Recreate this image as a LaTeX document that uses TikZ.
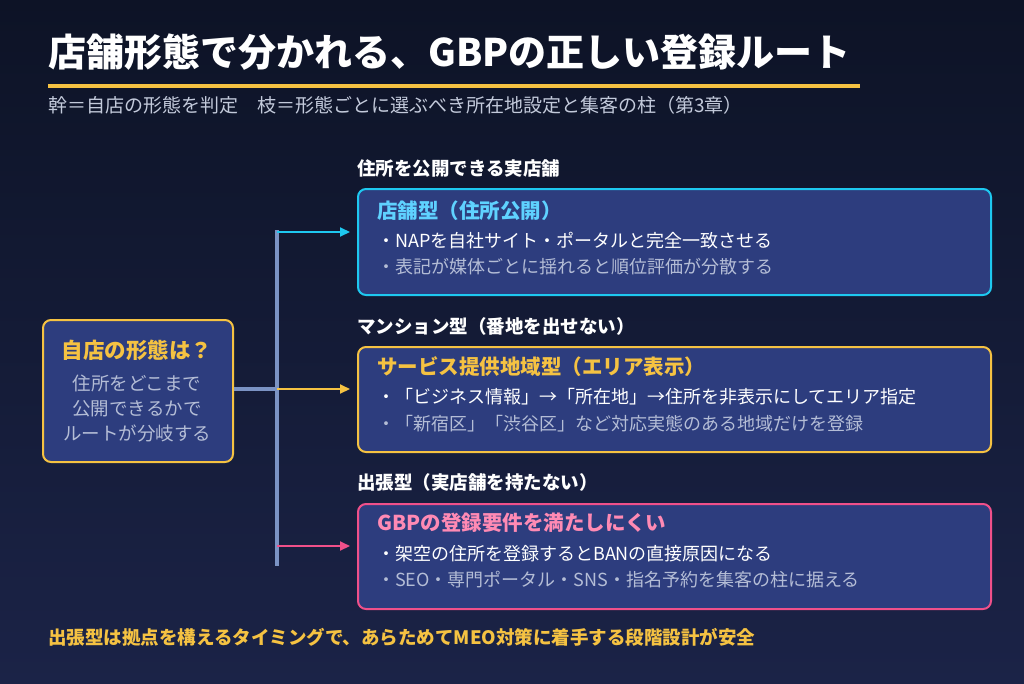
\documentclass[tikz,border=0pt]{standalone}
\usepackage{fontspec}
\setmainfont{Noto Sans CJK JP}
\usetikzlibrary{arrows.meta}
\definecolor{bgtop}{HTML}{0D1326}
\definecolor{bgbot}{HTML}{1B2347}
\definecolor{boxfill}{HTML}{2D3D7E}
\definecolor{yel}{HTML}{F5C242}
\definecolor{cya}{HTML}{1EC8F0}
\definecolor{cyt}{HTML}{5FD2FF}
\definecolor{pnk}{HTML}{F0508A}
\definecolor{pkt}{HTML}{FF8AB4}
\definecolor{trunk}{HTML}{7B93C4}
\definecolor{sub}{HTML}{C3CADB}
\definecolor{body2}{HTML}{B4BDD6}
\tikzset{
 x=1pt,y=-1pt,
 box/.style={draw=#1,line width=2pt,fill=boxfill,rounded corners=8pt,anchor=north west,inner sep=0pt},
 hdr/.style={anchor=west,text=white,font=\bfseries\fontsize{18.5}{20}\selectfont,inner sep=0pt},
 ttl/.style={anchor=west,text=#1,font=\bfseries\fontsize{20.5}{22}\selectfont,inner sep=0pt},
 l1/.style={anchor=west,text=white,font=\fontsize{18}{20}\selectfont,inner sep=0pt},
 l2/.style={anchor=west,text=body2,font=\fontsize{18}{20}\selectfont,inner sep=0pt},
 br/.style={draw=#1,line width=2pt,-{Triangle[length=10pt,width=9pt]}},
}
\begin{document}
\begin{tikzpicture}
\shade[top color=bgtop,bottom color=bgbot] (0,0) rectangle (1024,683);
\useasboundingbox (0,0) rectangle (1024,683);
\node[anchor=west,text=white,font=\bfseries\fontsize{38}{42}\selectfont,inner sep=0pt] (title) at (48,52) {店舗形態で分かれる、GBPの正しい登録ルート};
\draw[yel,line width=3.5pt] (48,86) -- (860,86);
\node[anchor=west,text=sub,font=\fontsize{19}{20}\selectfont,inner sep=0pt] (subt) at (48,105) {幹＝自店の形態を判定\quad 枝＝形態ごとに選ぶべき所在地設定と集客の柱（第3章）};
% left box
\node[box=yel,minimum width=190pt,minimum height=142pt] (q) at (42,319) {};
\node[text=yel,font=\bfseries\fontsize{21.5}{24}\selectfont,inner sep=0pt] (qt) at (137,350) {自店の形態は？};
\node[text=body2,font=\fontsize{18.5}{25}\selectfont,align=center,inner sep=0pt] (qb) at (137,408) {住所をどこまで\\公開できるかで\\ルートが分岐する};
% trunk
\coordinate (j) at (277,389);
\coordinate (tt) at (277,230);
\coordinate (tb) at (277,566);
\draw[trunk,line width=3.5pt] (q.east |- j) -- (j);
\draw[trunk,line width=3.5pt] (tt) -- (tb);
% boxes
\node[box=cya,minimum width=633pt,minimum height=106pt] (b1) at (357,188) {};
\node[box=yel,minimum width=633pt,minimum height=105pt] (b2) at (357,346) {};
\node[box=pnk,minimum width=633pt,minimum height=105pt] (b3) at (357,503) {};
\coordinate (c1) at (277,232);
\coordinate (c3) at (277,546);
\draw[br=cya] (c1) -- (350,232);
\draw[br=yel] (j) -- (350,389);
\draw[br=pnk] (c3) -- (350,546);
\node[hdr] (h1) at (357,168) {住所を公開できる実店舗};
\node[hdr] (h2) at (357,326) {マンション型（番地を出せない）};
\node[hdr] (h3) at (357,482) {出張型（実店舗を持たない）};
\node[ttl=cyt] (t1) at (377,211) {店舗型（住所公開）};
\node[l1] (a1) at (377,241) {・NAPを自社サイト・ポータルと完全一致させる};
\node[l2] (a2) at (377,267) {・表記が媒体ごとに揺れると順位評価が分散する};
\node[ttl=yel] (t2) at (377,367) {サービス提供地域型（エリア表示）};
\node[l1] (b1a) at (377,397) {・「ビジネス情報」→「所在地」→住所を非表示にしてエリア指定};
\node[l2] (b2a) at (377,424) {・「新宿区」「渋谷区」など対応実態のある地域だけを登録};
\node[ttl=pkt] (t3) at (377,523) {GBPの登録要件を満たしにくい};
\node[l1] (c1a) at (377,554) {・架空の住所を登録するとBANの直接原因になる};
\node[l2] (c2a) at (377,580) {・SEO・専門ポータル・SNS・指名予約を集客の柱に据える};
\node[anchor=west,text=yel,font=\bfseries\fontsize{18.5}{20}\selectfont,inner sep=0pt] (foot) at (48,637) {出張型は拠点を構えるタイミングで、あらためてMEO対策に着手する段階設計が安全};
\end{tikzpicture}
\end{document}
